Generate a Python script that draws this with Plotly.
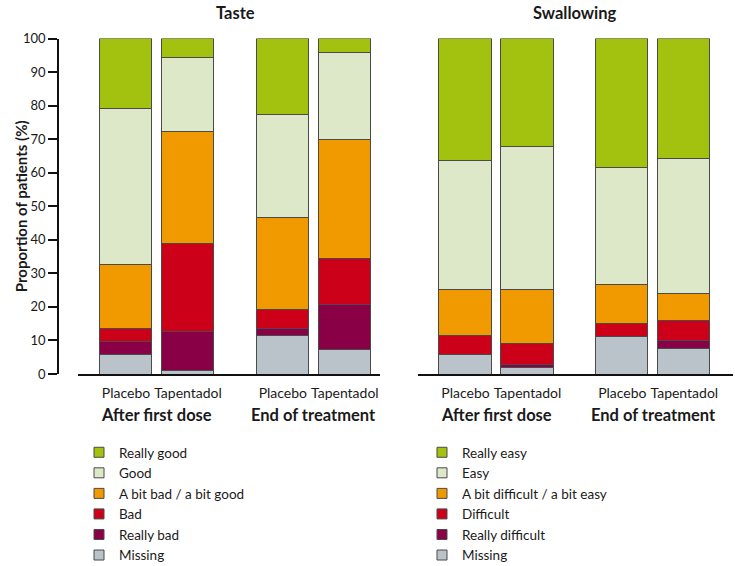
import plotly.graph_objects as go

# ---- data ----
bar_labels = ["Placebo", "Tapentadol", "Placebo", "Tapentadol"]
group_labels = ["After first dose", "End of treatment"]
bar_pos = [0, 1, 2.53, 3.53]

taste_cats = ["Missing", "Really bad", "Bad", "A bit bad / a bit good", "Good", "Really good"]
taste_missing = [5.8, 1.0, 11.6, 7.3]
taste_really_bad = [4.0, 11.8, 2.0, 13.5]
taste_bad = [3.8, 26.2, 5.5, 13.7]
taste_abit = [19.1, 33.3, 27.4, 35.3]
taste_good = [46.3, 22.1, 30.7, 26.1]
taste_really_good = [21.0, 5.6, 22.8, 4.1]

swal_cats = ["Missing", "Really difficult", "Difficult", "A bit difficult / a bit easy", "Easy", "Really easy"]
swal_missing = [5.7, 1.9, 11.3, 7.5]
swal_really_diff = [0.0, 0.8, 0.0, 2.6]
swal_diff = [5.7, 6.5, 3.9, 5.8]
swal_abit = [13.7, 15.9, 11.6, 8.2]
swal_easy = [38.5, 42.8, 34.9, 40.0]
swal_really_easy = [36.4, 32.1, 38.3, 35.9]

y_ticks = [0, 10, 20, 30, 40, 50, 60, 70, 80, 90, 100]

colors = ["#b9c3c9", "#8a0046", "#cc0019", "#f09a00", "#dde8c9", "#a3c10f"]

FONT = "Lato"
TXT = "#1a1a1a"
EDGE = "#4a4a4a"
W, H = 735, 566


def px(x):
    return x / W


def py(y):
    return 1 - y / H


taste_vals = [taste_missing, taste_really_bad, taste_bad, taste_abit, taste_good, taste_really_good]
swal_vals = [swal_missing, swal_really_diff, swal_diff, swal_abit, swal_easy, swal_really_easy]

fig = go.Figure()

for vals, cats, xa, ya, lg in [(taste_vals, taste_cats, "x", "y", "legend"),
                               (swal_vals, swal_cats, "x2", "y2", "legend2")]:
    for v, c, col in zip(vals, cats, colors):
        fig.add_trace(go.Bar(x=bar_pos, y=v, name=c, xaxis=xa, yaxis=ya,
                             width=0.84, marker=dict(color=col, line=dict(color=EDGE, width=1)),
                             showlegend=False, hoverinfo="y+name"))
    for c, col in zip(cats, colors):
        fig.add_trace(go.Scatter(x=[None], y=[None], name=c, xaxis=xa, yaxis=ya, mode="markers",
                                 marker=dict(symbol="square", size=10, color=col,
                                             line=dict(color=EDGE, width=1)),
                                 legend=lg, showlegend=True))

ydom = [py(374), py(38.5)]
xdom1 = [px(78), px(380)]
xdom2 = [px(418), px(733)]

common_x = dict(showline=True, linecolor="#111", linewidth=1.5, ticks="outside", ticklen=5,
                tickcolor="rgba(0,0,0,0)", showgrid=False,
                zeroline=False, tickvals=bar_pos, ticktext=bar_labels, tickangle=0,
                automargin=False,
                tickfont=dict(family=FONT, size=14, color=TXT))

fig.update_layout(
    width=W, height=H,
    margin=dict(l=0, r=0, t=0, b=0, autoexpand=False),
    paper_bgcolor="white", plot_bgcolor="white",
    barmode="stack", bargap=0,
    font=dict(family=FONT, color=TXT),
    xaxis=dict(domain=xdom1, range=[-0.774, 4.097], anchor="y", **common_x),
    xaxis2=dict(domain=xdom2, range=[-0.766, 4.315], anchor="y2", **common_x),
    yaxis=dict(domain=ydom, range=[0, 100], anchor="free", position=px(58),
               showline=True, linecolor="#111", linewidth=1.5, ticks="outside", ticklen=9,
               tickcolor="#111", tickwidth=1.5, tickvals=y_ticks, showgrid=False, zeroline=False,
               automargin=False,
               tickfont=dict(family=FONT, size=13, color=TXT)),
    yaxis2=dict(domain=ydom, range=[0, 100], anchor="x2", visible=False),
    legend=dict(x=px(79), y=py(437), xanchor="left", yanchor="top",
                traceorder="reversed", font=dict(family=FONT, size=13.5, color=TXT),
                bgcolor="rgba(0,0,0,0)", itemclick=False),
    legend2=dict(x=px(422), y=py(437), xanchor="left", yanchor="top",
                 traceorder="reversed", font=dict(family=FONT, size=13.5, color=TXT),
                 bgcolor="rgba(0,0,0,0)", itemclick=False),
)

anns = [
    dict(text="<b>Taste</b>", x=1.765, xref="x", y=py(12.5), yref="paper", showarrow=False,
         xanchor="center", yanchor="middle", font=dict(size=16.5, family=FONT, color=TXT)),
    dict(text="<b>Swallowing</b>", x=1.765, xref="x2", y=py(13), yref="paper", showarrow=False,
         xanchor="center", yanchor="middle", font=dict(size=16.5, family=FONT, color=TXT)),
    dict(text="<b>Proportion of patients (%)</b>", x=px(21), xref="paper", y=(ydom[0] + ydom[1]) / 2,
         yref="paper", textangle=-90, showarrow=False, xanchor="center", yanchor="middle",
         font=dict(size=15, family=FONT, color=TXT)),
]
for xa in ["x", "x2"]:
    for i, g in enumerate(group_labels):
        anns.append(dict(text="<b>" + g + "</b>", x=(bar_pos[2 * i] + bar_pos[2 * i + 1]) / 2, xref=xa,
                         y=py(415), yref="paper", showarrow=False, xanchor="center", yanchor="middle",
                         font=dict(size=16.5, family=FONT, color=TXT)))
fig.update_layout(annotations=anns)

fig.write_html("out.html", config={"displayModeBar": False},
               post_script="document.body.style.margin='0';")
